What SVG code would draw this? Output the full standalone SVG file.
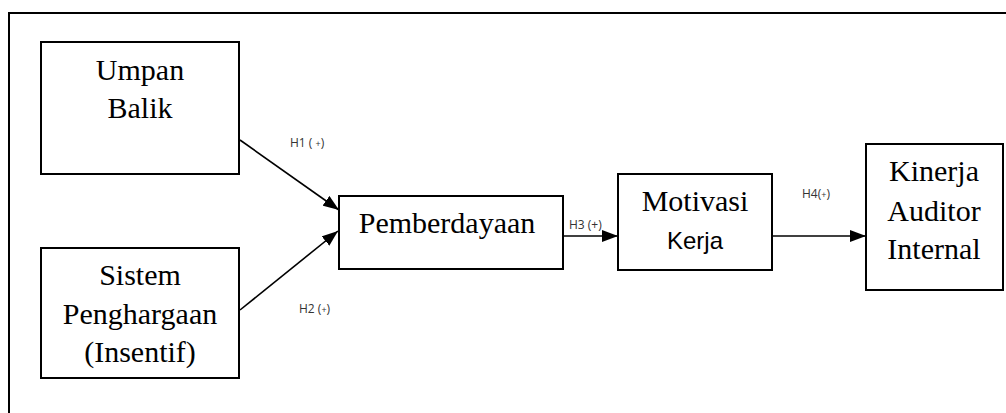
<svg xmlns="http://www.w3.org/2000/svg" width="1006" height="413" viewBox="0 0 1006 413">
  <defs>
    <marker id="arrow" viewBox="0 0 16 12" refX="16" refY="6" markerWidth="16" markerHeight="12" markerUnits="userSpaceOnUse" orient="auto">
      <path d="M0,0 L16,6 L0,12 z" fill="#000"/>
    </marker>
  </defs>
  <style>
    .box { fill: #fff; stroke: #000; stroke-width: 2; }
    .serif { font-family: "Liberation Serif", "Times New Roman", serif; font-size: 30px; fill: #000; text-anchor: middle; }
    .sans { font-family: "Liberation Sans", Arial, sans-serif; font-size: 24px; fill: #000; text-anchor: middle; }
    .lbl { font-family: "Open Sans", "Noto Sans", sans-serif; font-size: 12px; fill: #333; }
    .lbl .s { font-size: 9px; }
    .conn { stroke: #000; stroke-width: 1.6; fill: none; marker-end: url(#arrow); }
  </style>
  <rect width="1006" height="413" fill="#fff"/>
  <path d="M9,413 V13 H1006" fill="none" stroke="#000" stroke-width="2"/>

  <g id="connectors">
    <line class="conn" x1="240" y1="140" x2="339" y2="210"/>
    <line class="conn" x1="240" y1="310" x2="338" y2="231"/>
    <line class="conn" x1="563" y1="236" x2="618" y2="236"/>
    <line class="conn" x1="772" y1="236" x2="866" y2="236"/>
    <text class="lbl" x="290" y="147">H1 ( <tspan class="s">+</tspan>)</text>
    <text class="lbl" x="299" y="313">H2 (<tspan class="s">+</tspan>)</text>
    <text class="lbl" x="569" y="229">H3 (+)</text>
    <text class="lbl" x="802" y="198">H4(<tspan class="s">+</tspan>)</text>
  </g>

  <g id="umpan-balik">
    <rect class="box" x="41" y="42" width="198" height="132"/>
    <text class="serif" x="140" y="80">Umpan</text>
    <text class="serif" x="140" y="118">Balik</text>
  </g>

  <g id="sistem-penghargaan">
    <rect class="box" x="41" y="248" width="198" height="130"/>
    <text class="serif" x="140" y="285">Sistem</text>
    <text class="serif" x="140" y="324">Penghargaan</text>
    <text class="serif" x="140" y="362">(Insentif)</text>
  </g>

  <g id="pemberdayaan">
    <rect class="box" x="339" y="196" width="224" height="73"/>
    <text class="serif" x="447" y="233">Pemberdayaan</text>
  </g>

  <g id="motivasi-kerja">
    <rect class="box" x="618" y="174" width="154" height="96"/>
    <text class="serif" x="695" y="211">Motivasi</text>
    <text class="sans" x="695" y="249">Kerja</text>
  </g>

  <g id="kinerja-auditor">
    <rect class="box" x="866" y="144" width="137" height="146"/>
    <text class="serif" x="934" y="181">Kinerja</text>
    <text class="serif" x="934" y="221">Auditor</text>
    <text class="serif" x="934" y="259">Internal</text>
  </g>
</svg>
